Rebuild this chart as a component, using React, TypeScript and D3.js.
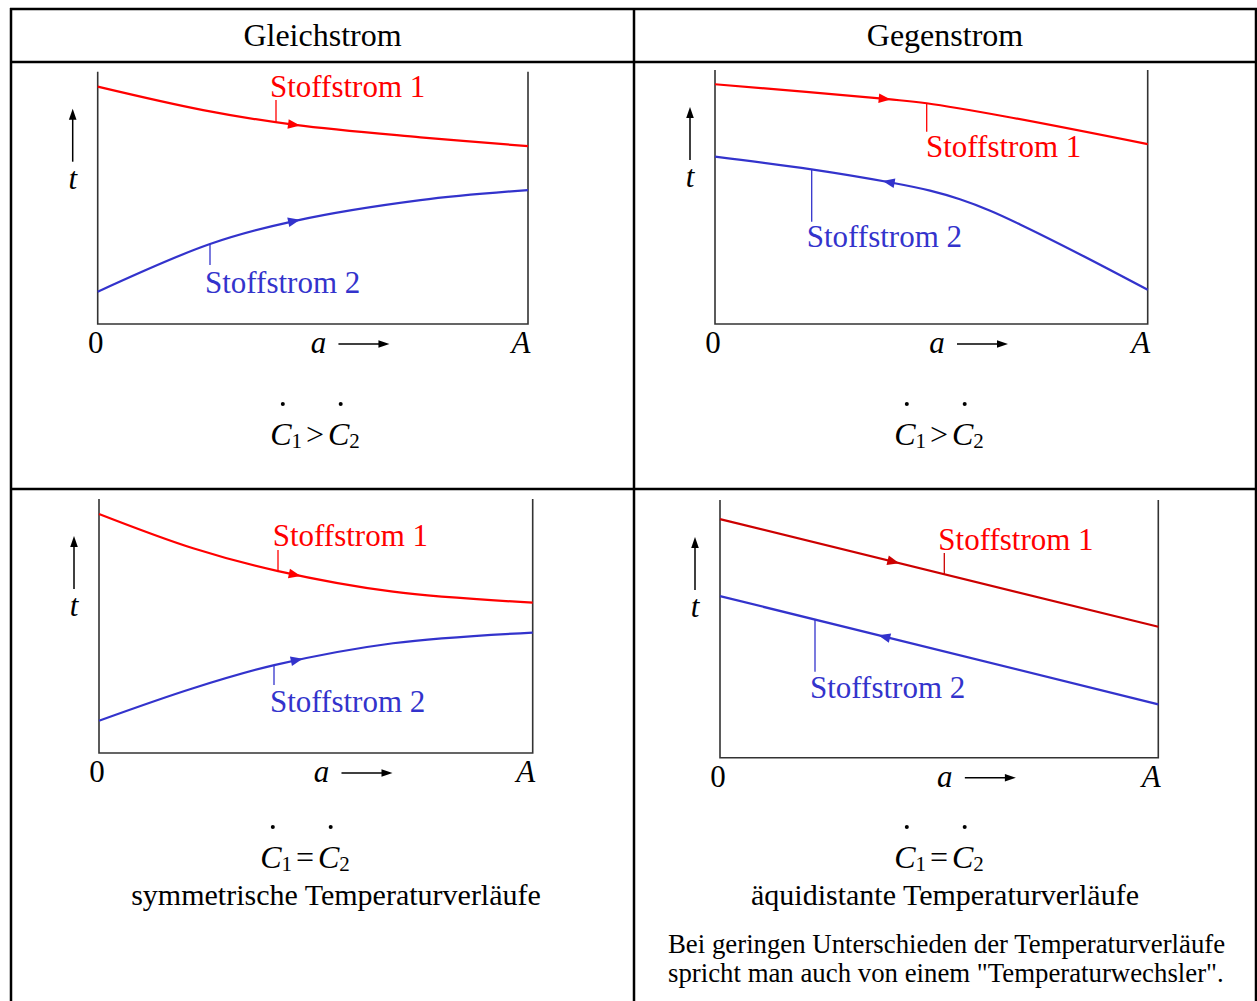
import { useEffect, useRef } from "react"
import * as d3 from "d3"

const W = 1257
const H = 1001
const RED = "#ff0000"
const DARKRED = "#cc0000"
const BLUE = "#3333cc"

// [a / A, relative temperature]
const gleichUngleich1 = [[0, 0.941], [0.245, 0.848], [0.459, 0.789], [0.75, 0.74], [1, 0.705]]
const gleichUngleich2 = [[0, 0.128], [0.261, 0.317], [0.459, 0.409], [0.75, 0.491], [1, 0.531]]
const gegenUngleich1 = [[0, 0.944], [0.4, 0.885], [0.489, 0.869], [0.674, 0.816], [1, 0.708]]
const gegenUngleich2 = [[0, 0.659], [0.223, 0.609], [0.4, 0.559], [0.497, 0.525], [0.566, 0.491], [0.636, 0.446], [0.705, 0.392], [0.844, 0.274], [1, 0.135]]
const gleichGleich1 = [[0, 0.941], [0.217, 0.806], [0.413, 0.716], [0.678, 0.635], [1, 0.592]]
const gleichGleich2 = [[0, 0.127], [0.217, 0.255], [0.404, 0.346], [0.678, 0.432], [1, 0.474]]
const gegenGleich1 = [[0, 0.926], [1, 0.508]]
const gegenGleich2 = [[0, 0.627], [1, 0.207]]

const headers = ["Gleichstrom", "Gegenstrom"]
const streamLabels = ["Stoffstrom 1", "Stoffstrom 2"]
const captions = ["", "", "symmetrische Temperaturverläufe", "äquidistante Temperaturverläufe"]
const relations = [">", ">", "=", "="]
const noteLines = [
  "Bei geringen Unterschieden der Temperaturverläufe",
  'spricht man auch von einem "Temperaturwechsler".',
]

const panels = [
  {
    x0: 97.7, x1: 528, y0: 71.7, y1: 324, s1: gleichUngleich1, s2: gleichUngleich2,
    c1: RED, dir2: 1, arr1: 300, arr2: 300,
    lab1: [270, 97], lead1: [276, 100], lab2: [205, 293], lead2: [210, 265],
    fx: 315, fy: 445, cx: 0,
  },
  {
    x0: 715, x1: 1147.7, y0: 70, y1: 324, s1: gegenUngleich1, s2: gegenUngleich2,
    c1: RED, dir2: -1, arr1: 890.7, arr2: 882.7,
    lab1: [926, 157], lead1: [926.7, 131.7], lab2: [806.7, 247], lead2: [811.7, 221.7],
    fx: 939, fy: 445, cx: 0,
  },
  {
    x0: 99, x1: 532.7, y0: 499, y1: 753, s1: gleichGleich1, s2: gleichGleich2,
    c1: RED, dir2: 1, arr1: 300.7, arr2: 302.7,
    lab1: [272.7, 546], lead1: [278, 550], lab2: [270, 712], lead2: [274, 685],
    fx: 305, fy: 868, cx: 336,
  },
  {
    x0: 720, x1: 1158.3, y0: 500, y1: 757.7, s1: gegenGleich1, s2: gegenGleich2,
    c1: DARKRED, dir2: -1, arr1: 899.3, arr2: 878.3,
    lab1: [938.3, 550], lead1: [944.3, 553], lab2: [810, 698], lead2: [815, 671.7],
    fx: 939, fy: 868, cx: 945,
  },
]

const FONT = "'Liberation Serif', 'Times New Roman', serif"

function lengthAtX(path: SVGPathElement, x: number) {
  let lo = 0
  let hi = path.getTotalLength()
  for (let i = 0; i < 40; i++) {
    const mid = (lo + hi) / 2
    if (path.getPointAtLength(mid).x < x) lo = mid
    else hi = mid
  }
  return lo
}

const App = () => {
  const svgRef = useRef<SVGSVGElement>(null)

  useEffect(() => {
    const svg = d3.select(svgRef.current)
    svg.selectAll("*").remove()

    // table grid
    const grid = svg.append("g").attr("stroke", "#000").attr("stroke-width", 2.5)
    grid.append("line").attr("x1", 11).attr("x2", 11).attr("y1", 8).attr("y2", H)
    grid.append("line").attr("x1", 1256).attr("x2", 1256).attr("y1", 8).attr("y2", H)
    grid.append("line").attr("x1", 634).attr("x2", 634).attr("y1", 8).attr("y2", H)
    grid.append("line").attr("x1", 10).attr("x2", 1257).attr("y1", 9).attr("y2", 9)
    grid.append("line").attr("x1", 10).attr("x2", 1257).attr("y1", 62).attr("y2", 62)
    grid.append("line").attr("x1", 10).attr("x2", 1257).attr("y1", 489).attr("y2", 489)

    headers.forEach((h, i) => {
      svg.append("text")
        .attr("x", i === 0 ? 322.5 : 945)
        .attr("y", 46)
        .attr("text-anchor", "middle")
        .style("font-family", FONT)
        .style("font-size", "32px")
        .text(h)
    })

    const arrowHead = (g: any, tip: number[], back: number[], color: string, len: number, half: number) => {
      const dx = tip[0] - back[0]
      const dy = tip[1] - back[1]
      const n = Math.hypot(dx, dy)
      const ux = dx / n
      const uy = dy / n
      const bx = tip[0] - ux * len
      const by = tip[1] - uy * len
      g.append("path")
        .attr("d", `M${tip[0]},${tip[1]}L${bx - uy * half},${by + ux * half}L${bx + uy * half},${by - ux * half}Z`)
        .attr("fill", color)
    }

    panels.forEach((p, pi) => {
      const g = svg.append("g")
      const x = d3.scaleLinear().domain([0, 1]).range([p.x0, p.x1])
      const y = d3.scaleLinear().domain([0, 1]).range([p.y1, p.y0])
      const line = d3.line<number[]>()
        .x((d) => x(d[0]))
        .y((d) => y(d[1]))
        .curve(d3.curveCatmullRom.alpha(0.5))

      // axes box
      g.append("path")
        .attr("d", `M${p.x0},${p.y0}V${p.y1}H${p.x1}V${p.y0}`)
        .attr("fill", "none")
        .attr("stroke", "#333")
        .attr("stroke-width", 1.6)

      const series = [
        { data: p.s1, color: p.c1, dir: 1, arr: p.arr1, lab: p.lab1, lead: p.lead1, tcolor: RED, text: streamLabels[0] },
        { data: p.s2, color: BLUE, dir: p.dir2, arr: p.arr2, lab: p.lab2, lead: p.lead2, tcolor: BLUE, text: streamLabels[1] },
      ]

      series.forEach((s) => {
        const path = g.append("path")
          .attr("d", line(s.data as number[][]))
          .attr("fill", "none")
          .attr("stroke", s.color)
          .attr("stroke-width", 2.2)
        const node = path.node() as SVGPathElement

        const lt = lengthAtX(node, s.arr)
        const tp = node.getPointAtLength(lt)
        const bp = node.getPointAtLength(lt - 6 * s.dir)
        arrowHead(g, [tp.x, tp.y], [bp.x, bp.y], s.color, 12, 4.8)

        const lc = node.getPointAtLength(lengthAtX(node, s.lead[0]))
        g.append("line")
          .attr("x1", s.lead[0]).attr("x2", s.lead[0])
          .attr("y1", lc.y).attr("y2", s.lead[1])
          .attr("stroke", s.color)
          .attr("stroke-width", 1.3)

        g.append("text")
          .attr("x", s.lab[0])
          .attr("y", s.lab[1])
          .attr("fill", s.tcolor)
          .style("font-family", FONT)
          .style("font-size", "31px")
          .text(s.text)
      })

      // t axis label
      const tx = p.x0 - 25
      g.append("line")
        .attr("x1", tx).attr("x2", tx)
        .attr("y1", p.y0 + 90).attr("y2", p.y0 + 47)
        .attr("stroke", "#000").attr("stroke-width", 1.5)
      arrowHead(g, [tx, p.y0 + 37], [tx, p.y0 + 60], "#000", 11, 3.8)
      g.append("text")
        .attr("x", tx).attr("y", p.y0 + 117)
        .attr("text-anchor", "middle")
        .style("font-family", FONT).style("font-style", "italic").style("font-size", "31px")
        .text("t")

      // a axis labels
      const by = p.y1 + 29
      g.append("text").attr("x", p.x0 - 2).attr("y", by).attr("text-anchor", "middle")
        .style("font-family", FONT).style("font-size", "31px").text("0")
      const ax = p.x0 + 0.513 * (p.x1 - p.x0)
      g.append("text").attr("x", ax).attr("y", by).attr("text-anchor", "middle")
        .style("font-family", FONT).style("font-style", "italic").style("font-size", "31px").text("a")
      g.append("line")
        .attr("x1", ax + 20).attr("x2", ax + 62)
        .attr("y1", by - 9).attr("y2", by - 9)
        .attr("stroke", "#000").attr("stroke-width", 1.5)
      arrowHead(g, [ax + 71, by - 9], [ax + 40, by - 9], "#000", 11, 3.8)
      g.append("text").attr("x", p.x1 - 7).attr("y", by).attr("text-anchor", "middle")
        .style("font-family", FONT).style("font-style", "italic").style("font-size", "31px").text("A")

      // formula C1 > C2 with dot accents
      const f = g.append("text")
        .attr("x", p.fx).attr("y", p.fy)
        .attr("text-anchor", "middle")
        .style("font-family", FONT).style("font-size", "32px")
      f.append("tspan").style("font-style", "italic").text("C")
      f.append("tspan").attr("dy", 3).style("font-size", "21px").text("1")
      f.append("tspan").attr("dy", -3).attr("dx", 4).text(relations[pi])
      f.append("tspan").attr("dx", 4).style("font-style", "italic").text("C")
      f.append("tspan").attr("dy", 3).style("font-size", "21px").text("2")
      const fn = f.node() as SVGTextElement
      ;[0, 3].forEach((ci) => {
        const sp = fn.getStartPositionOfChar(ci)
        const ep = fn.getEndPositionOfChar(ci)
        g.append("circle")
          .attr("cx", (sp.x + ep.x) / 2 + 2)
          .attr("cy", p.fy - 41)
          .attr("r", 2)
          .attr("fill", "#000")
      })

      if (captions[pi]) {
        g.append("text")
          .attr("x", p.cx)
          .attr("y", p.fy + 37)
          .attr("text-anchor", "middle")
          .style("font-family", FONT).style("font-size", "30px")
          .text(captions[pi])
      }
    })

    noteLines.forEach((l, i) => {
      svg.append("text")
        .attr("x", 668)
        .attr("y", 953 + i * 29)
        .style("font-family", FONT)
        .style("font-size", "26.8px")
        .text(l)
    })
  }, [])

  return (
    <svg
      ref={svgRef}
      width={W}
      height={H}
      style={{ position: "absolute", left: 0, top: 0, background: "#fff" }}
    ></svg>
  )
}

export default App
